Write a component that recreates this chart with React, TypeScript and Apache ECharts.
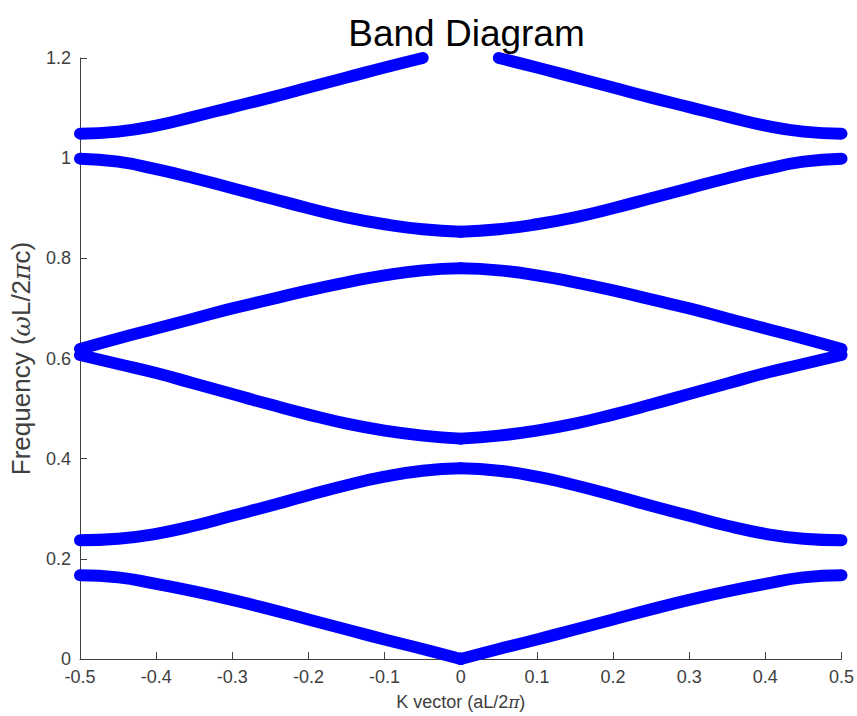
import React, { useEffect, useRef } from "react";
import * as echarts from "echarts";

// Wave vector samples across the first Brillouin zone
const kVector = [
  -0.5, -0.45, -0.4, -0.35, -0.3, -0.25, -0.2, -0.15, -0.1, -0.05, 0,
  0.05, 0.1, 0.15, 0.2, 0.25, 0.3, 0.35, 0.4, 0.45, 0.5,
];

// Normalized frequency of each band (null = outside the plotted range)
const band1 = [0.167, 0.163, 0.15, 0.135, 0.118, 0.099, 0.079, 0.059, 0.039, 0.02, 0.0,
  0.02, 0.039, 0.059, 0.079, 0.099, 0.118, 0.135, 0.15, 0.163, 0.167];
const band2 = [0.237, 0.24, 0.25, 0.266, 0.286, 0.306, 0.327, 0.347, 0.364, 0.376, 0.381,
  0.376, 0.364, 0.347, 0.327, 0.306, 0.286, 0.266, 0.25, 0.24, 0.237];
const band3 = [0.607, 0.589, 0.571, 0.55, 0.529, 0.508, 0.488, 0.47, 0.456, 0.446, 0.44,
  0.446, 0.456, 0.47, 0.488, 0.508, 0.529, 0.55, 0.571, 0.589, 0.607];
const band4 = [0.619, 0.64, 0.66, 0.68, 0.7, 0.718, 0.736, 0.752, 0.766, 0.776, 0.78,
  0.776, 0.766, 0.752, 0.736, 0.718, 0.7, 0.68, 0.66, 0.64, 0.619];
const band5 = [0.999, 0.993, 0.978, 0.96, 0.94, 0.92, 0.9, 0.882, 0.868, 0.858, 0.853,
  0.858, 0.868, 0.882, 0.9, 0.92, 0.94, 0.96, 0.978, 0.993, 0.999];
const band6 = [1.049, 1.053, 1.065, 1.083, 1.102, 1.121, 1.141, 1.161, 1.181, 1.2, null,
  1.2, 1.181, 1.161, 1.141, 1.121, 1.102, 1.083, 1.065, 1.053, 1.049];

const bands = [band1, band2, band3, band4, band5, band6];

const BLUE = "#0000ff";
const AXIS = "#404040";
const FONT = "Liberation Sans";

// Each band is drawn as two branches (k <= 0 and k >= 0) so the cusp at k = 0 stays sharp
function branch(values: (number | null)[], from: number, to: number) {
  const pts: [number, number][] = [];
  for (let i = from; i <= to; i++) {
    const v = values[i];
    if (v !== null && v !== undefined) pts.push([kVector[i], v]);
  }
  return pts;
}

function buildSeries() {
  const mid = kVector.indexOf(0);
  const out: any[] = [];
  bands.forEach((b, idx) => {
    [branch(b, 0, mid), branch(b, mid, kVector.length - 1)].forEach((data, side) => {
      out.push({
        type: "line",
        name: `band${idx + 1}-${side}`,
        data,
        smooth: 0.5,
        showSymbol: false,
        clip: false,
        silent: true,
        lineStyle: { color: BLUE, width: 12, cap: "round", join: "round" },
      });
    });
  });
  return out;
}

export default function App() {
  const ref = useRef<HTMLDivElement>(null);

  useEffect(() => {
    if (!ref.current) return;
    const chart = echarts.init(ref.current, null, { renderer: "svg" });
    chart.setOption({
      animation: false,
      backgroundColor: "#ffffff",
      title: {
        text: "Band Diagram",
        left: 461.5,
        top: 10,
        textAlign: "center",
        textStyle: { fontFamily: FONT, fontSize: 37, fontWeight: "normal", color: "#000000" },
      },
      grid: { left: 80, right: 15, top: 58, bottom: 56, containLabel: false },
      xAxis: {
        type: "value",
        min: -0.5,
        max: 0.5,
        interval: 0.1,
        name: "{n|K vector (aL/2}{i|π}{n|)}",
        nameLocation: "middle",
        nameGap: 34,
        nameTextStyle: {
          color: AXIS,
          rich: {
            n: { fontFamily: FONT, fontSize: 18, color: AXIS },
            i: { fontFamily: "DejaVu Serif", fontStyle: "italic", fontSize: 17, color: AXIS },
          },
        },
        axisLine: { show: true, onZero: false, lineStyle: { color: AXIS, width: 1 } },
        axisTick: { show: true, inside: true, length: 7, lineStyle: { color: AXIS } },
        axisLabel: { fontFamily: FONT, fontSize: 18, color: AXIS, margin: 9 },
        splitLine: { show: false },
      },
      yAxis: {
        type: "value",
        min: 0,
        max: 1.2,
        interval: 0.2,
        name: "{n|Frequency (}{i|ω}{n|L/2}{i|π}{n|c)}",
        nameLocation: "middle",
        nameGap: 46,
        nameTextStyle: {
          color: AXIS,
          rich: {
            n: { fontFamily: FONT, fontSize: 26, color: AXIS },
            i: { fontFamily: "DejaVu Serif", fontStyle: "italic", fontSize: 25, color: AXIS },
          },
        },
        axisLine: { show: true, onZero: false, lineStyle: { color: AXIS, width: 1 } },
        axisTick: { show: true, inside: true, length: 7, lineStyle: { color: AXIS } },
        axisLabel: { fontFamily: FONT, fontSize: 18, color: AXIS, margin: 9 },
        splitLine: { show: false },
      },
      series: buildSeries(),
    });
    return () => chart.dispose();
  }, []);

  return (
    <div
      ref={ref}
      style={{ position: "fixed", left: 0, top: 0, width: 857, height: 716, background: "#ffffff" }}
    />
  );
}
